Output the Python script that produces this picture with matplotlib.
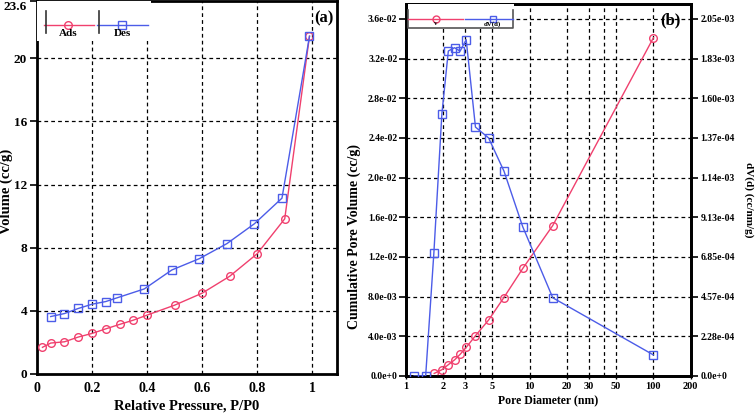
import matplotlib
matplotlib.use("Agg")
import matplotlib.pyplot as plt
import matplotlib.ticker as mticker
from matplotlib.lines import Line2D
from matplotlib.patches import Rectangle

plt.rcParams["font.family"] = ["Liberation Serif", "DejaVu Serif"]
plt.rcParams["font.weight"] = "bold"

RED = "#f0406e"
BLUE = "#4c5ce8"

# ── panel (a): isotherm ────────────────────────────────────
ads_p = [0.02, 0.05, 0.10, 0.15, 0.20, 0.25, 0.30, 0.35, 0.40, 0.50, 0.60, 0.70, 0.80, 0.90, 0.99]
ads_v = [1.69, 1.96, 2.04, 2.34, 2.57, 2.86, 3.14, 3.41, 3.73, 4.36, 5.12, 6.19, 7.62, 9.83, 21.4]
des_p = [0.05, 0.10, 0.15, 0.20, 0.25, 0.29, 0.39, 0.49, 0.59, 0.69, 0.79, 0.89, 0.99]
des_v = [3.64, 3.83, 4.15, 4.42, 4.59, 4.82, 5.39, 6.59, 7.31, 8.26, 9.52, 11.14, 21.4]
a_yticks = [0, 4, 8, 12, 16, 20, 23.6]
a_yticklabels = ["0", "4", "8", "12", "16", "20", "23.6"]
a_xticks = [0, 0.2, 0.4, 0.6, 0.8, 1]
a_xticklabels = ["0", "0.2", "0.4", "0.6", "0.8", "1"]

# ── panel (b): pore size distribution ──────────────────────
v_d = [1.70, 1.96, 2.21, 2.49, 2.75, 3.08, 3.66, 4.67, 6.17, 8.86, 15.4, 100]
v_cum = [0.00026, 0.00063, 0.00114, 0.00164, 0.00218, 0.00288, 0.00406,
         0.00564, 0.00786, 0.01088, 0.01517, 0.0341]
dv_d = [1.17, 1.45, 1.69, 1.96, 2.21, 2.48, 2.75, 3.08, 3.66, 4.67, 6.22, 8.80, 15.4, 100]
dv_val = [0.0, 0.0, 7.09e-4, 1.505e-3, 1.866e-3, 1.885e-3, 1.865e-3, 1.931e-3,
          1.429e-3, 1.367e-3, 1.176e-3, 8.58e-4, 4.49e-4, 1.21e-4]
b_yticks = [0, 0.004, 0.008, 0.012, 0.016, 0.020, 0.024, 0.028, 0.032, 0.036]
b_yticklabels = ["0.0e+0", "4.0e-03", "8.0e-03", "1.2e-02", "1.6e-02", "2.0e-02",
                 "2.4e-02", "2.8e-02", "3.2e-02", "3.6e-02"]
b_rticklabels = ["0.0e+0", "2.28e-04", "4.57e-04", "6.85e-04", "9.13e-04", "1.14e-03",
                 "1.37e-04", "1.60e-03", "1.83e-03", "2.05e-03"]
b_xticks = [1, 2, 3, 5, 10, 20, 30, 50, 100, 200]
b_xgrid = [2, 3, 4, 5, 10, 20, 30, 40, 50, 100]
R_SCALE = 2.05e-3 / 0.036

fig = plt.figure(figsize=(7.56, 4.16), dpi=100)

GRID = dict(color="black", linestyle=(0, (3, 2.5)), linewidth=0.9)

# ════════════════════════ panel (a) ════════════════════════
ax1 = fig.add_axes([0.0489, 0.101, 0.3969, 0.8954])
ax1.set_xlim(0, 1.09)
ax1.set_ylim(0, 23.6)
for g in a_xticks[1:]:
    ax1.axvline(g, zorder=0, **GRID)
for g in a_yticks[1:-1]:
    ax1.axhline(g, zorder=0, **GRID)
ax1.plot(ads_p, ads_v, color=RED, lw=1, marker="o", ms=5.5, mfc="none", mew=1, zorder=3)
ax1.plot(des_p, des_v, color=BLUE, lw=1, marker="s", ms=5.5, mfc="none", mew=1, zorder=3)
ax1.set_xticks(a_xticks)
ax1.set_xticklabels(a_xticklabels)
ax1.set_yticks(a_yticks)
ax1.set_yticklabels(a_yticklabels)
ax1.tick_params(axis="x", length=0, pad=6, labelsize=10)
ax1.tick_params(axis="y", length=5, width=1.2, direction="out", pad=2, labelsize=9.5)
ax1.get_yticklabels()[-1].set_va("top")
for s in ax1.spines.values():
    s.set_linewidth(2)
ax1.set_xlabel("Relative Pressure, P/P0", fontsize=10.5, fontweight="bold")
ax1.set_ylabel("Volume (cc/g)", fontsize=10.5, fontweight="bold")
ax1.xaxis.set_label_coords(0.5, -0.068)
ax1.yaxis.set_label_coords(-0.079, 0.49)

# legend (a)
ax1.add_patch(Rectangle((0, 0.895), 0.38, 0.11, transform=ax1.transAxes,
                        facecolor="white", edgecolor="none", zorder=4))
for x0, x1, xm, col, mk, lab in [(0.022, 0.19, 0.105, RED, "o", "Ads"),
                                  (0.20, 0.37, 0.285, BLUE, "s", "Des")]:
    ax1.add_line(Line2D([x0, x1], [0.938, 0.938], color=col, lw=1,
                        transform=ax1.transAxes, zorder=5))
    ax1.add_line(Line2D([xm], [0.938], color=col, marker=mk, ms=5.5, mfc="none",
                        transform=ax1.transAxes, zorder=6))
    ax1.add_line(Line2D([x0 + 0.008, x0 + 0.008], [0.915, 0.975], color="#333333", lw=1.2,
                        transform=ax1.transAxes, zorder=5))
    ax1.text(xm, 0.913, lab, transform=ax1.transAxes, ha="center", va="center",
             fontsize=8, fontweight="bold", zorder=6)
ax1.text(0.955, 0.955, "(a)", transform=ax1.transAxes, ha="center", va="center",
         fontsize=12, fontweight="bold", zorder=6)

# ════════════════════════ panel (b) ════════════════════════
ax2 = fig.add_axes([0.5366, 0.0962, 0.377, 0.894])
ax2.set_xscale("log")
ax2.set_xlim(1, 200)
ax2.set_ylim(0, 0.0375)
for g in b_xgrid:
    ax2.axvline(g, zorder=0, **GRID)
for g in b_yticks[1:]:
    ax2.axhline(g, zorder=0, **GRID)
ax2.plot(v_d, v_cum, color=RED, lw=1, marker="o", ms=5.5, mfc="none", mew=1, zorder=3)
ax2.xaxis.set_major_locator(mticker.FixedLocator(b_xticks))
ax2.xaxis.set_major_formatter(mticker.FixedFormatter([str(t) for t in b_xticks]))
ax2.xaxis.set_minor_locator(mticker.NullLocator())
ax2.set_yticks(b_yticks)
ax2.set_yticklabels(b_yticklabels)
ax2.tick_params(axis="x", length=2, width=1, pad=2, labelsize=7.5)
ax2.tick_params(axis="y", length=5, width=1.2, direction="out", pad=1, labelsize=7)
for s in ax2.spines.values():
    s.set_linewidth(2)
ax2.set_xlabel("Pore Diameter (nm)", fontsize=8.5, fontweight="bold")
ax2.set_ylabel("Cumulative Pore Volume (cc/g)", fontsize=10, fontweight="bold")
ax2.xaxis.set_label_coords(0.5, -0.05)
ax2.yaxis.set_label_coords(-0.155, 0.375)

ax3 = ax2.twinx()
ax3.set_ylim(0, 0.0375 * R_SCALE)
ax3.plot(dv_d, dv_val, color=BLUE, lw=1, marker="s", ms=5.5, mfc="none", mew=1, zorder=3)
ax3.set_yticks([t * R_SCALE for t in b_yticks])
ax3.set_yticklabels(b_rticklabels)
ax3.tick_params(axis="y", length=5, width=1.2, direction="out", pad=2, labelsize=7)
for s in ax3.spines.values():
    s.set_linewidth(2)
ax3.set_ylabel("dV(d) (cc/nm/g)", fontsize=8, fontweight="bold", rotation=-90)
ax3.yaxis.set_label_coords(1.222, 0.473)

# legend (b)
ax3.add_patch(Rectangle((0.008, 0.937), 0.372, 0.07, transform=ax3.transAxes,
                        facecolor="white", edgecolor="none", zorder=4))
ax3.add_line(Line2D([0.008, 0.008, 0.375, 0.375], [0.985, 0.937, 0.937, 0.985],
                    color="#555555", lw=1.2, transform=ax3.transAxes, zorder=5))
for x0, x1, xm, col, mk, lab in [(0.008, 0.2, 0.105, RED, "o", "v"),
                                  (0.208, 0.375, 0.305, BLUE, "s", "dV(d)")]:
    ax3.add_line(Line2D([x0, x1], [0.961, 0.961], color=col, lw=1,
                        transform=ax3.transAxes, zorder=5))
    ax3.add_line(Line2D([xm], [0.961], color=col, marker=mk, ms=5, mfc="none",
                        transform=ax3.transAxes, zorder=6))
    ax3.text(xm, 0.947, lab, transform=ax3.transAxes, ha="center", va="center",
             fontsize=5, zorder=6)
ax3.text(0.93, 0.955, "(b)", transform=ax3.transAxes, ha="center", va="center",
         fontsize=12, fontweight="bold", zorder=6)

fig.savefig("out.png", dpi=100)
